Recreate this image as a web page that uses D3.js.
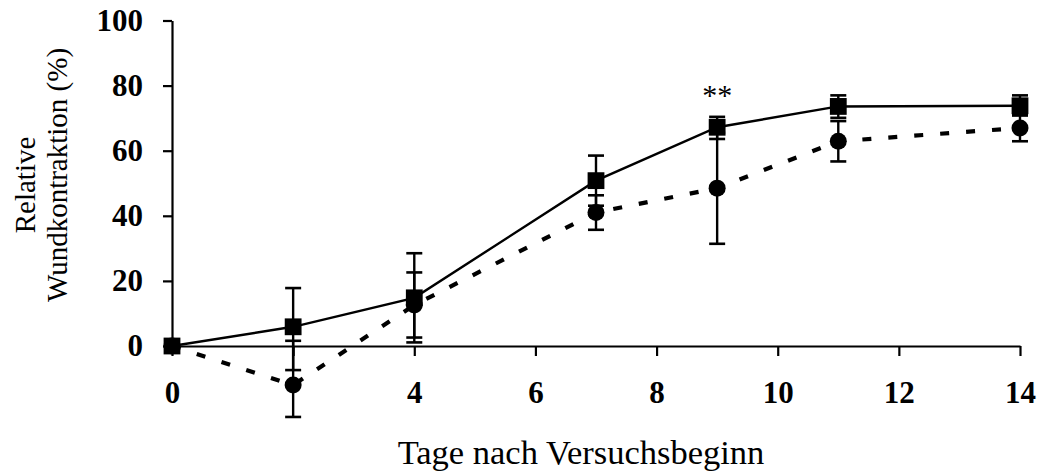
<!DOCTYPE html>
<html><head><meta charset="utf-8">
<script src="https://cdn.jsdelivr.net/npm/d3@7"></script>
<style>body{margin:0;background:#fff}svg{display:block}</style>
</head><body>
<svg id="c" width="1037" height="475"></svg>
<script>
const days = [0, 2, 4, 7, 9, 11, 14];
const squareMean  = [0, 5.9, 14.8, 50.8, 67.2, 73.6, 73.8];
const squarePlus  = [0, 11.9, 13.7, 7.7, 3.2, 3.4, 3.2];
const squareMinus = [0, 13.3, 13.7, 7.7, 3.6, 3.5, 3.0];
const circleMean  = [0, -12.0, 12.6, 41.0, 48.5, 62.9, 67.0];
const circlePlus  = [0, 13.6, 10.0, 5.3, 17.0, 6.2, 4.1];
const circleMinus = [0, 9.8, 10.0, 5.3, 17.1, 6.2, 4.1];
const xTicks = [0, 2, 4, 6, 8, 10, 12, 14];
const xTickLabels = ["0", "", "4", "6", "8", "10", "12", "14"];
const yTicks = [0, 20, 40, 60, 80, 100];
const xTitle = "Tage nach Versuchsbeginn";
const yTitle = ["Relative", "Wundkontraktion (%)"];
const annotation = {day: 9, value: 78, text: "**"};

const svg = d3.select("#c");
const x = d3.scaleLinear().domain([0, 14]).range([172, 1020]);
const y = d3.scaleLinear().domain([0, 100]).range([346, 20.5]);
const font = "'Liberation Serif','Times New Roman',serif";

// axes
const yAxis = svg.append("g").attr("transform", `translate(${x(0)},0)`)
  .call(d3.axisLeft(y).tickValues(yTicks).tickSize(9).tickPadding(20).tickSizeOuter(0));
const xAxis = svg.append("g").attr("transform", `translate(0,${y(0)})`)
  .call(d3.axisBottom(x).tickValues(xTicks).tickSize(10).tickPadding(25).tickSizeOuter(0)
    .tickFormat((d, i) => xTickLabels[i]));
[yAxis, xAxis].forEach(g => {
  g.select(".domain").attr("stroke", "#000").attr("stroke-width", 2.2);
  g.selectAll(".tick line").attr("stroke", "#000").attr("stroke-width", 2.2);
  g.selectAll(".tick text").attr("fill", "#000").attr("font-family", font)
    .attr("font-weight", "bold").attr("font-size", 31);
});

// lines
const pts = (m) => days.map((d, i) => [x(d), y(m[i])]);
const line = d3.line();
svg.append("path").attr("d", line(pts(circleMean))).attr("fill", "none")
  .attr("stroke", "#000").attr("stroke-width", 4.2).attr("stroke-dasharray", "9,17");
svg.append("path").attr("d", line(pts(squareMean))).attr("fill", "none")
  .attr("stroke", "#000").attr("stroke-width", 2.4);

// error bars
function errBars(mean, plus, minus) {
  const g = svg.append("g").attr("stroke", "#000");
  days.forEach((d, i) => {
    if (plus[i] === 0 && minus[i] === 0) return;
    const cx = x(d), top = y(mean[i] + plus[i]), bot = y(mean[i] - minus[i]);
    g.append("line").attr("x1", cx).attr("x2", cx).attr("y1", top).attr("y2", bot).attr("stroke-width", 2.4);
    [top, bot].forEach(yy => g.append("line").attr("x1", cx - 8).attr("x2", cx + 8)
      .attr("y1", yy).attr("y2", yy).attr("stroke-width", 2.6));
  });
}
errBars(circleMean, circlePlus, circleMinus);
errBars(squareMean, squarePlus, squareMinus);

// markers
svg.append("g").selectAll("circle").data(days).join("circle")
  .attr("cx", d => x(d)).attr("cy", (d, i) => y(circleMean[i])).attr("r", 8.5).attr("fill", "#000");
svg.append("g").selectAll("rect").data(days).join("rect")
  .attr("x", d => x(d) - 8.4).attr("y", (d, i) => y(squareMean[i]) - 8.4)
  .attr("width", 16.8).attr("height", 16.8).attr("fill", "#000");

// annotation
svg.append("text").attr("x", x(annotation.day)).attr("y", y(annotation.value) + 13)
  .attr("text-anchor", "middle").attr("font-family", font).attr("font-size", 30)
  .attr("fill", "#000").text(annotation.text);

// titles
svg.append("text").attr("x", 581).attr("y", 464).attr("text-anchor", "middle")
  .attr("font-family", font).attr("font-size", 34.5).attr("fill", "#000").text(xTitle);
svg.append("text").attr("transform", "translate(35,185) rotate(-90)").attr("text-anchor", "middle")
  .attr("font-family", font).attr("font-size", 29).attr("fill", "#000").text(yTitle[0]);
svg.append("text").attr("transform", "translate(67,175) rotate(-90)").attr("text-anchor", "middle")
  .attr("font-family", font).attr("font-size", 29).attr("fill", "#000").text(yTitle[1]);
</script>
</body></html>
